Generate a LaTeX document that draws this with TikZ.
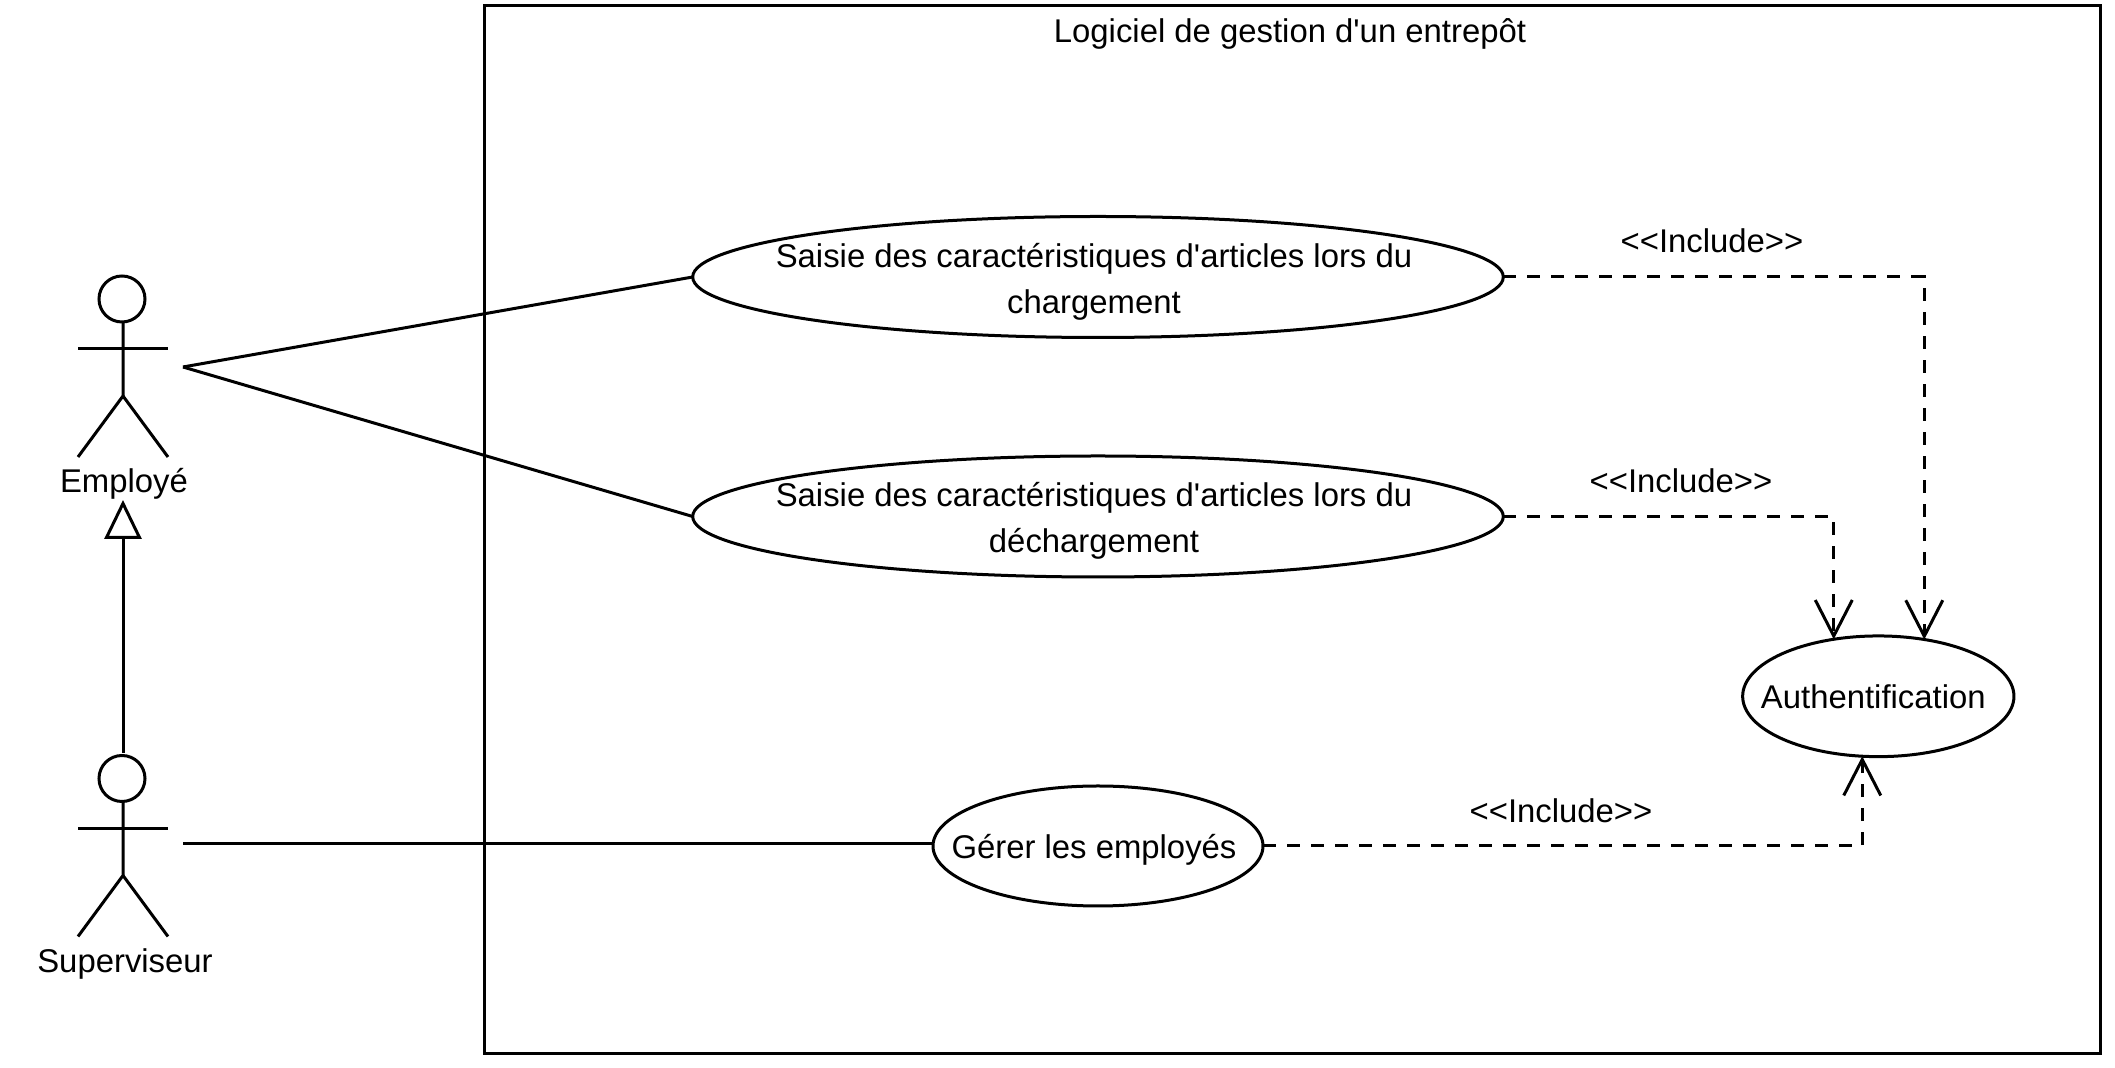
\documentclass[tikz,border=0pt]{standalone}
\usepackage{fontspec}
\setmainfont[Ligatures=TeXOff]{Liberation Sans}
\usetikzlibrary{arrows.meta,shapes.geometric}
\tikzset{
    usecase/.style={ellipse,draw,line width=0.03cm,inner sep=0pt,outer sep=0pt},
    includeline/.style={line width=0.03cm,dash pattern=on 0.13cm off 0.11cm,-{Straight Barb[length=0.36cm,width=0.37cm,line width=0.03cm]}},
    assocline/.style={line width=0.03cm},
    actorlabel/.style={inner sep=0pt}
}
\newcommand{\stickman}[2]{
    \draw[line width=0.03cm] (#1,#2) circle (0.23cm);
    \draw[line width=0.03cm] (#1+0.01,#2-0.23) -- (#1+0.01,#2-0.97) -- (#1-0.44,#2-1.58);
    \draw[line width=0.03cm] (#1+0.01,#2-0.97) -- (#1+0.46,#2-1.58);
    \draw[line width=0.03cm] (#1-0.44,#2-0.50) -- (#1+0.46,#2-0.50);
}
\begin{document}
\begin{tikzpicture}[font=\fontsize{9.35}{13}\selectfont]
    \useasboundingbox (0,0) rectangle (21.15,10.68);
    % system boundary
    \node[draw,line width=0.03cm,minimum width=16.167cm,minimum height=10.48cm,inner sep=0pt,outer sep=0pt] (systeme) at (12.924,5.38) {};
    \node[inner sep=0pt] (titre) at (12.90,10.345) {Logiciel de gestion d'un entrepôt};
    % actors
    \stickman{1.22}{7.69}
    \stickman{1.22}{2.895}
    \node[actorlabel] (employe) at (1.24,5.84) {Employé};
    \node[actorlabel] (superviseur) at (1.25,1.035) {Superviseur};
    \coordinate (empfoot) at (1.83,7.01);
    \coordinate (supfoot) at (1.83,2.24);
    \coordinate (supheadtop) at (1.23,3.15);
    \coordinate (generaltip) at (1.23,5.68);
    % use cases
    \node[usecase,minimum width=8.106cm,minimum height=1.21cm,label={[align=center,xshift=-0.04cm,yshift=-0.045cm]center:Saisie des caractéristiques d'articles lors du\\chargement}] (charg) at (10.98,7.91) {};
    \node[usecase,minimum width=8.106cm,minimum height=1.21cm,label={[align=center,xshift=-0.04cm,yshift=-0.045cm]center:Saisie des caractéristiques d'articles lors du\\déchargement}] (decharg) at (10.98,5.515) {};
    \node[usecase,minimum width=3.30cm,minimum height=1.20cm,label={[xshift=-0.04cm,yshift=-0.037cm]center:Gérer les employés}] (gerer) at (10.98,2.22) {};
    \node[usecase,minimum width=2.713cm,minimum height=1.207cm,label={[xshift=-0.05cm]center:Authentification}] (auth) at (18.783,3.717) {};
    % associations
    \draw[assocline] (empfoot) -- (charg.west);
    \draw[assocline] (empfoot) -- (decharg.west);
    \draw[assocline] (supfoot) -- (gerer.west |- supfoot);
    \draw[assocline,-{Triangle[open,length=0.39cm,width=0.37cm,line width=0.03cm]}] (supheadtop) -- (generaltip);
    % includes
    \draw[includeline] (charg.east) -| (auth.51.9);
    \draw[includeline] (decharg.east) -| (auth.128.5);
    \draw[includeline] (gerer.east) -| (auth.255.7);
    \node[inner sep=0pt] (inc1) at (17.12,8.27) {<<Include>>};
    \node[inner sep=0pt] (inc2) at (16.81,5.87) {<<Include>>};
    \node[inner sep=0pt] (inc3) at (15.61,2.57) {<<Include>>};
\end{tikzpicture}
\end{document}
